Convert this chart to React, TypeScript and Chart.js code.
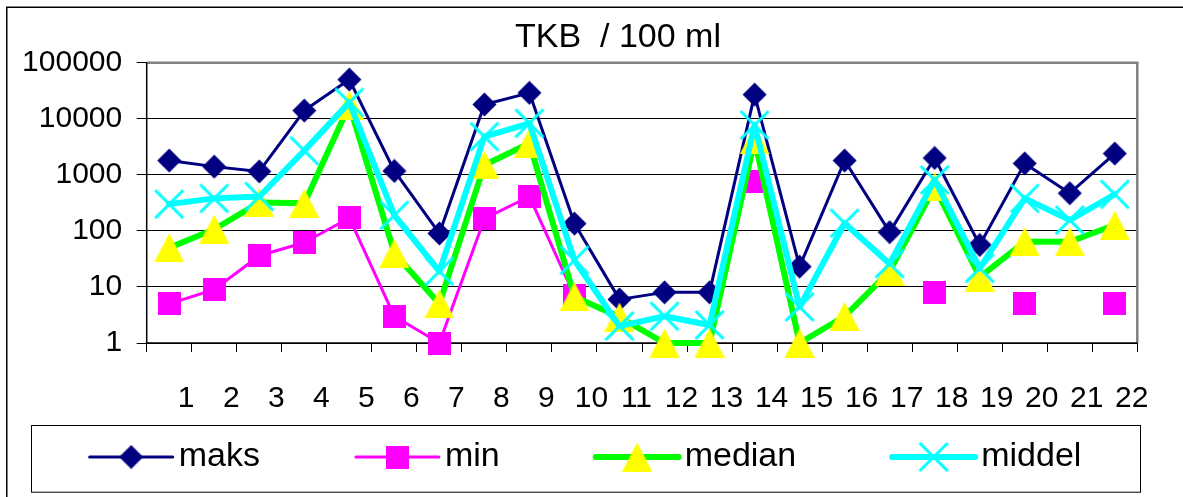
import React, { useEffect, useRef } from 'react';
import { Chart, registerables } from 'chart.js';

Chart.register(...registerables);

// ---------- data ----------
const categories = ['1', '2', '3', '4', '5', '6', '7', '8', '9', '10', '11', '12', '13', '14', '15', '16', '17', '18', '19', '20', '21', '22'];
const seriesNames = ['maks', 'min', 'median', 'middel'];
const maks = [1800, 1400, 1150, 14000, 50000, 1170, 90, 18000, 29000, 135, 6, 8, 8, 27000, 23, 1800, 95, 2000, 56, 1600, 470, 2400];
const minValues = [5, 9, 36, 62, 170, 3, 1, 165, 410, 7, null, null, null, 750, null, null, null, 8, null, 5, null, 5];
const median = [50, 107, 320, 310, 17500, 40, 5, 1500, 3650, 6.7, 2.9, 1, 1, 4200, 1, 3, 19, 610, 15, 64, 64, 127];
const middel = [300, 380, 410, 2700, 19600, 190, 19, 4800, 8300, 30, 2, 3, 2.1, 7700, 4.4, 137, 26, 810, 21.5, 380, 156, 450];
const yTickValues = [1, 10, 100, 1000, 10000, 100000];
const titleText = 'TKB  / 100 ml';

const FONT = "'Liberation Sans', Arial, Helvetica, sans-serif";

function makeMarker(kind: string): HTMLCanvasElement {
  const c = document.createElement('canvas');
  let ctx: CanvasRenderingContext2D;
  if (kind === 'diamond') {
    c.width = 25; c.height = 25;
    ctx = c.getContext('2d')!;
    ctx.fillStyle = '#000080';
    ctx.beginPath();
    ctx.moveTo(12.5, 0.5); ctx.lineTo(24.5, 12.5); ctx.lineTo(12.5, 24.5); ctx.lineTo(0.5, 12.5);
    ctx.closePath(); ctx.fill();
  } else if (kind === 'square') {
    c.width = 23; c.height = 23;
    ctx = c.getContext('2d')!;
    ctx.fillStyle = '#FF00FF';
    ctx.fillRect(0, 0, 23, 23);
  } else if (kind === 'triangle') {
    c.width = 30; c.height = 29;
    ctx = c.getContext('2d')!;
    ctx.fillStyle = '#FFFF00';
    ctx.beginPath();
    ctx.moveTo(15, 0); ctx.lineTo(30, 29); ctx.lineTo(0, 29);
    ctx.closePath(); ctx.fill();
  } else {
    c.width = 32; c.height = 32;
    ctx = c.getContext('2d')!;
    ctx.strokeStyle = '#00FFFF';
    ctx.lineWidth = 3;
    ctx.beginPath();
    ctx.moveTo(2, 2); ctx.lineTo(30, 30);
    ctx.moveTo(30, 2); ctx.lineTo(2, 30);
    ctx.stroke();
  }
  return c;
}

const decorPlugin = {
  id: 'decor',
  beforeDraw(chart: any) {
    const ctx = chart.ctx;
    ctx.save();
    ctx.fillStyle = '#ffffff';
    ctx.fillRect(0, 0, chart.width, chart.height);
    ctx.strokeStyle = '#000000';
    ctx.lineWidth = 1.5;
    ctx.strokeRect(6.75, 7.25, chart.width + 40, chart.height + 40);
    // chart title, centred on the (wider, cropped) chart object
    ctx.fillStyle = '#000000';
    ctx.font = `34px ${FONT}`;
    ctx.textAlign = 'center';
    ctx.textBaseline = 'alphabetic';
    ctx.fillText(titleText, 618, 46.5);
    ctx.restore();
  },
  beforeDatasetsDraw(chart: any) {
    const { left, right, top, bottom } = chart.chartArea;
    const ctx = chart.ctx;
    ctx.save();
    ctx.strokeStyle = '#808080';
    ctx.lineWidth = 2.5;
    ctx.beginPath();
    ctx.moveTo(left, top);
    ctx.lineTo(right, top);
    ctx.lineTo(right, bottom);
    ctx.stroke();
    ctx.strokeStyle = '#000000';
    ctx.lineWidth = 1.5;
    ctx.beginPath();
    ctx.moveTo(left, top);
    ctx.lineTo(left, bottom);
    ctx.lineTo(right, bottom);
    ctx.stroke();
    ctx.restore();
  },
  afterDraw(chart: any) {
    const ctx = chart.ctx;
    const boxL = 31, boxT = 425, boxR = 1140, boxB = 491.7;
    ctx.save();
    ctx.strokeStyle = '#000000';
    ctx.lineWidth = 1;
    ctx.strokeRect(boxL + 0.5, boxT + 0.5, boxR - boxL, boxB - boxT);
    ctx.font = `34px ${FONT}`;
    const sampleLen = 83, textGap = 6, itemGap = 96;
    const ds = chart.data.datasets;
    const widths = ds.map((d: any) => sampleLen + textGap + ctx.measureText(d.label).width);
    const total = widths.reduce((a: number, b: number) => a + b, 0) + itemGap * (ds.length - 1);
    let x = (boxL + boxR) / 2 - total / 2;
    const y = 457;
    ds.forEach((d: any, i: number) => {
      ctx.strokeStyle = d.borderColor;
      ctx.lineWidth = d.borderWidth;
      ctx.lineCap = 'round';
      ctx.beginPath();
      ctx.moveTo(x, y);
      ctx.lineTo(x + sampleLen, y);
      ctx.stroke();
      const img = d.pointStyle as HTMLCanvasElement;
      ctx.drawImage(img, x + sampleLen / 2 - img.width / 2, y - img.height / 2);
      ctx.fillStyle = '#000000';
      ctx.textBaseline = 'middle';
      ctx.textAlign = 'left';
      ctx.fillText(d.label, x + sampleLen + textGap, y);
      x += widths[i] + itemGap;
    });
    ctx.restore();
  },
};

export default function App() {
  const ref = useRef<HTMLCanvasElement>(null);

  useEffect(() => {
    if (!ref.current) return;
    const diamond = makeMarker('diamond');
    const square = makeMarker('square');
    const triangle = makeMarker('triangle');
    const cross = makeMarker('x');

    const common = {
      pointRadius: 12,
      pointHoverRadius: 12,
      clip: false as const,
      tension: 0,
      spanGaps: false,
      borderJoinStyle: 'round' as const,
      borderCapStyle: 'round' as const,
    };

    const chart = new Chart(ref.current, {
      type: 'line',
      data: {
        labels: categories,
        datasets: [
          { ...common, label: seriesNames[0], data: maks, borderColor: '#000080', backgroundColor: '#000080', borderWidth: 3, pointStyle: diamond as any, order: 4 },
          { ...common, label: seriesNames[1], data: minValues, borderColor: '#FF00FF', backgroundColor: '#FF00FF', borderWidth: 3, pointStyle: square as any, order: 3 },
          { ...common, label: seriesNames[2], data: median, borderColor: '#00FF00', backgroundColor: '#FFFF00', borderWidth: 6, pointStyle: triangle as any, order: 2 },
          { ...common, label: seriesNames[3], data: middel, borderColor: '#00FFFF', backgroundColor: '#00FFFF', borderWidth: 6, pointStyle: cross as any, order: 1 },
        ],
      },
      options: {
        animation: false,
        responsive: false,
        events: [],
        layout: { padding: { left: 0, right: 45.7, top: 62.7, bottom: 84 } },
        plugins: {
          legend: { display: false },
          tooltip: { enabled: false },
          title: { display: false },
        },
        scales: {
          x: {
            type: 'category',
            offset: true,
            grid: { offset: true, drawOnChartArea: false, drawTicks: true, tickLength: 9, color: '#000000', lineWidth: 1 },
            border: { display: false },
            ticks: {
              color: '#000000',
              font: { family: FONT, size: 30 },
              labelOffset: 17,
              padding: 29,
              autoSkip: false,
              maxRotation: 0,
              minRotation: 0,
            },
            afterFit: (s: any) => { s.height = 70; },
          },
          y: {
            type: 'logarithmic',
            min: 1,
            max: 100000,
            grid: { color: '#000000', lineWidth: 1, tickLength: 10, drawTicks: true },
            border: { display: false },
            ticks: {
              color: '#000000',
              font: { family: FONT, size: 30 },
              padding: 14.5,
              autoSkip: false,
              callback: (v: any) => String(v),
            },
            afterBuildTicks: (s: any) => { s.ticks = yTickValues.map((v) => ({ value: v })); },
            afterFit: (s: any) => { s.width = 146.7; },
          },
        },
      } as any,
      plugins: [decorPlugin],
    });
    return () => chart.destroy();
  }, []);

  return (
    <div style={{ position: 'fixed', left: 0, top: 0, width: 1183, height: 497, background: '#ffffff' }}>
      <canvas ref={ref} width={1183} height={497} style={{ display: 'block', width: 1183, height: 497 }} />
    </div>
  );
}
